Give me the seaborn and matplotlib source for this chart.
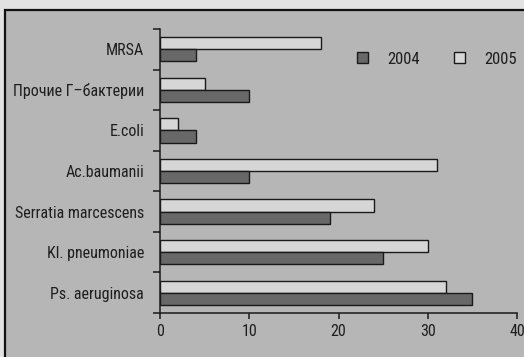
import matplotlib
matplotlib.use("Agg")
import matplotlib.pyplot as plt
from matplotlib.patches import Patch, Rectangle
import seaborn as sns
import pandas as pd
import numpy as np

categories = ["MRSA", "Прочие Г–бактерии", "E.coli", "Ac.baumanii",
              "Serratia marcescens", "Kl. pneumoniae", "Ps. aeruginosa"]
values_2004 = [4, 10, 4, 10, 19, 25, 35]
values_2005 = [18, 5, 2, 31, 24, 30, 32]
x_ticks = [0, 10, 20, 30, 40]

sns.set_style("white")
plt.rcParams['font.family'] = ['Roboto Condensed', 'Liberation Sans Narrow', 'Liberation Sans', 'DejaVu Sans']

bg = "#b6b6b6"
light = "#d6d6d6"
dark = "#686868"
txt = "#1e1e1e"

df = pd.DataFrame({
    "cat": categories * 2,
    "val": values_2005 + values_2004,
    "year": ["2005"] * len(categories) + ["2004"] * len(categories),
})

fig = plt.figure(figsize=(5.24, 3.57), dpi=100, facecolor="#e2e2e2")
bax = fig.add_axes([0, 0, 1, 1], zorder=-10)
bax.set_xlim(0, 524)
bax.set_ylim(357, 0)
bax.axis("off")
bax.add_patch(Rectangle((5, 10), 600, 400, facecolor=bg,
                        edgecolor="#111111", linewidth=1.6))

ax = fig.add_axes([160 / 524, 44 / 357, (517 - 160) / 524, (313 - 29) / 357], zorder=1)
ax.set_facecolor("none")

sns.barplot(data=df, y="cat", x="val", hue="year", hue_order=["2005", "2004"],
            order=categories, palette={"2005": light, "2004": dark},
            width=0.6, edgecolor="#1a1a1a", linewidth=1.0, orient="y",
            legend=False, ax=ax)

ax.set_xlim(0, 40)
ax.set_ylim(6.5, -0.5)
ax.set_xticks(x_ticks)
ax.set_xlabel("")
ax.set_ylabel("")
ax.set_yticks(np.arange(-0.5, 7, 1), minor=True)
ax.tick_params(axis="y", which="major", length=0, pad=11.5, labelsize=11.5, labelcolor=txt)
ax.tick_params(axis="y", which="minor", left=True, length=5, width=1.1, color="#1a1a1a")
ax.tick_params(axis="x", which="major", bottom=True, length=4, width=1.1, color="#1a1a1a",
               pad=4, labelsize=11.5, labelcolor=txt)
for s in ["top", "right"]:
    ax.spines[s].set_visible(False)
for s in ["left", "bottom"]:
    ax.spines[s].set_color("#1a1a1a")
    ax.spines[s].set_linewidth(1.1)

handles = [Patch(facecolor=dark, edgecolor="#1a1a1a", label="2004"),
           Patch(facecolor=light, edgecolor="#1a1a1a", label="2005")]
ax.legend(handles=handles, ncol=2, frameon=False, loc="center",
          bbox_to_anchor=((437 - 160) / 357, (313 - 59) / 284),
          handlelength=0.65, handleheight=0.65, handletextpad=1.2,
          columnspacing=2.0, fontsize=12, labelcolor=txt)

fig.savefig("out.png", dpi=100, facecolor=fig.get_facecolor())
